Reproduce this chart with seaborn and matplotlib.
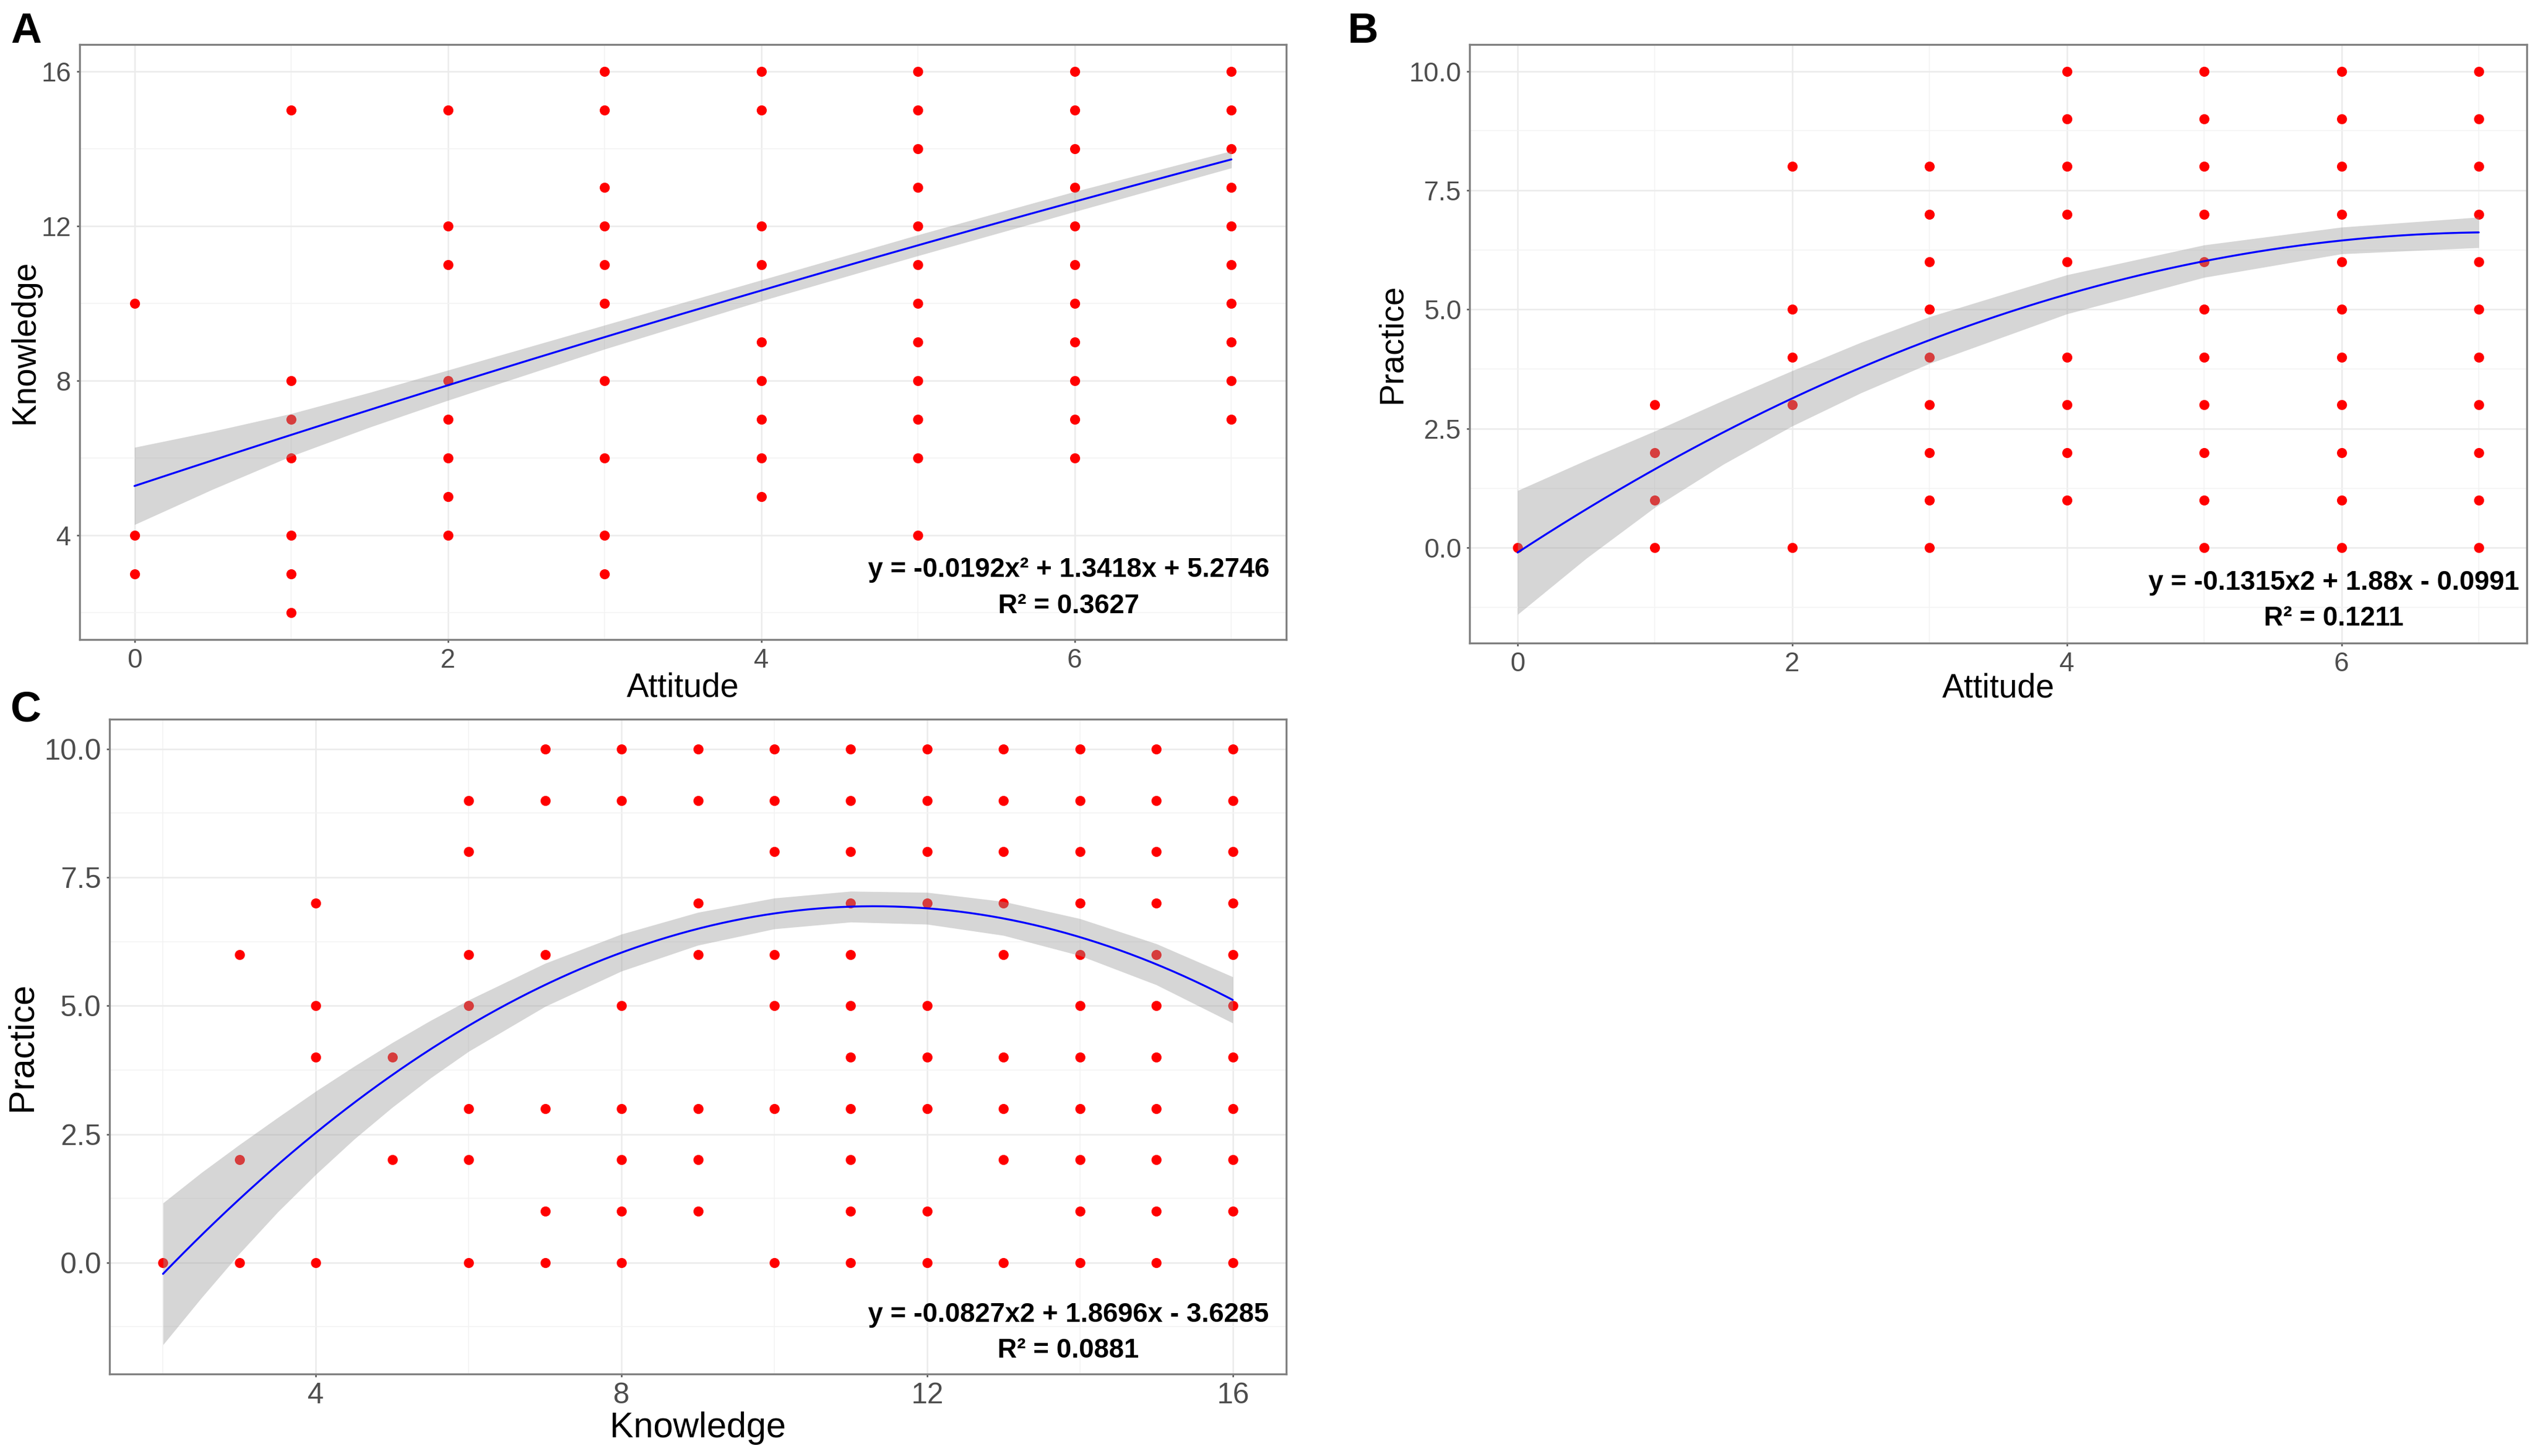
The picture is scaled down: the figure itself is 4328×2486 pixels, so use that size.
import numpy as np
import pandas as pd
import seaborn as sns
import matplotlib.pyplot as plt
from matplotlib.ticker import MultipleLocator, FormatStrFormatter

# ---- data ----
# panel A: Attitude (x) vs Knowledge (y)
a_x = [0, 1, 2, 3, 4, 5, 6, 7]
a_y = [
    [10, 4, 3],
    [15, 8, 7, 6, 4, 3, 2],
    [15, 12, 11, 8, 7, 6, 5, 4],
    [16, 15, 13, 12, 11, 10, 8, 6, 4, 3],
    [16, 15, 12, 11, 9, 8, 7, 6, 5],
    [16, 15, 14, 13, 12, 11, 10, 9, 8, 7, 6, 4],
    [16, 15, 14, 13, 12, 11, 10, 9, 8, 7, 6],
    [16, 15, 14, 13, 12, 11, 10, 9, 8, 7],
]
a_coef = [-0.0192, 1.3418, 5.2746]
# CI half width of the smooth, read at these x
a_band_x = [0, 0.5, 1, 1.5, 2, 3, 4, 5, 6, 7]
a_band = [1.0, 0.75, 0.55, 0.45, 0.39, 0.31, 0.27, 0.27, 0.26, 0.22]

# panel B: Attitude (x) vs Practice (y)
b_x = [0, 1, 2, 3, 4, 5, 6, 7]
b_y = [
    [0],
    [3, 2, 1, 0],
    [8, 5, 4, 3, 0],
    [8, 7, 6, 5, 4, 3, 2, 1, 0],
    [10, 9, 8, 7, 6, 4, 3, 2, 1],
    [10, 9, 8, 7, 6, 5, 4, 3, 2, 1, 0],
    [10, 9, 8, 7, 6, 5, 4, 3, 2, 1, 0],
    [10, 9, 8, 7, 6, 5, 4, 3, 2, 1, 0],
]
b_coef = [-0.1315, 1.88, -0.0991]
b_band_x = [0, 0.5, 1, 1.5, 2, 2.5, 3, 4, 5, 6, 7]
b_band = [1.3, 1.03, 0.8, 0.67, 0.58, 0.53, 0.49, 0.41, 0.34, 0.28, 0.32]

# panel C: Knowledge (x) vs Practice (y)
c_x = [2, 3, 4, 5, 6, 7, 8, 9, 10, 11, 12, 13, 14, 15, 16]
c_y = [
    [0],
    [6, 2, 0],
    [7, 5, 4, 0],
    [4, 2],
    [9, 8, 6, 5, 3, 2, 0],
    [10, 9, 6, 3, 1, 0],
    [10, 9, 5, 3, 2, 1, 0],
    [10, 9, 7, 6, 3, 2, 1],
    [10, 9, 8, 6, 5, 3, 0],
    [10, 9, 8, 7, 6, 5, 4, 3, 2, 1, 0],
    [10, 9, 8, 7, 5, 4, 3, 1, 0],
    [10, 9, 8, 7, 6, 4, 3, 2, 0],
    [10, 9, 8, 7, 6, 5, 4, 3, 2, 1, 0],
    [10, 9, 8, 7, 6, 5, 4, 3, 2, 1, 0],
    [10, 9, 8, 7, 6, 5, 4, 3, 2, 1, 0],
]
c_coef = [-0.0827, 1.8696, -3.6285]
c_band_x = [2, 2.5, 3, 3.5, 4, 4.5, 5, 5.5, 6, 7, 8, 9, 10, 11, 12, 13, 14, 15, 16]
c_band = [1.38, 1.22, 1.06, 0.92, 0.81, 0.71, 0.63, 0.56, 0.5, 0.42, 0.36,
          0.32, 0.3, 0.3, 0.31, 0.33, 0.36, 0.4, 0.45]

a_eq = ["y = -0.0192x\u00b2 + 1.3418x + 5.2746", "R\u00b2 = 0.3627"]
b_eq = ["y = -0.1315x2 + 1.88x - 0.0991", "R\u00b2 = 0.1211"]
c_eq = ["y = -0.0827x2 + 1.8696x - 3.6285", "R\u00b2 = 0.0881"]

# ---- style ----
sns.set_theme(style="whitegrid")
plt.rcParams['font.family'] = ['Liberation Sans', 'DejaVu Sans']

W, H = 4328, 2486
fig = plt.figure(figsize=(W / 300, H / 300), dpi=300)
fig.patch.set_facecolor('white')


def box(l, t, r, b):
    return [l / W, 1 - b / H, (r - l) / W, (b - t) / H]


def panel(ax, xs, ys, coef, band_x, band, xlim, ylim, xstep, ystep, xlabel,
          ylabel, yfmt, xlab_y, ylab_x, tick_fs, lab_fs):
    df = pd.DataFrame({'x': np.repeat(xs, [len(v) for v in ys]),
                       'y': np.concatenate(ys)})
    sns.scatterplot(data=df, x='x', y='y', color='#FF0000', s=17,
                    linewidth=0, ax=ax, zorder=2)
    bx = np.array(band_x, dtype=float)
    fit_b = np.polyval(coef, bx)
    hw = np.array(band)
    ax.fill_between(bx, fit_b - hw, fit_b + hw, color='#999999', alpha=0.4,
                    lw=0, zorder=3)
    xf = np.linspace(xs[0], xs[-1], 200)
    sns.lineplot(x=xf, y=np.polyval(coef, xf), color='#0000FF', lw=0.8,
                 ax=ax, zorder=4)
    ax.set_xlim(*xlim)
    ax.set_ylim(*ylim)
    ax.xaxis.set_major_locator(MultipleLocator(xstep))
    ax.xaxis.set_minor_locator(MultipleLocator(xstep / 2))
    ax.yaxis.set_major_locator(MultipleLocator(ystep))
    ax.yaxis.set_minor_locator(MultipleLocator(ystep / 2))
    if yfmt:
        ax.yaxis.set_major_formatter(FormatStrFormatter(yfmt))
    ax.grid(which='major', color='#EBEBEB', lw=0.6)
    ax.grid(which='minor', color='#F3F3F3', lw=0.4)
    ax.set_axisbelow(True)
    for s in ax.spines.values():
        s.set_visible(True)
        s.set_color('#808080')
        s.set_linewidth(0.8)
    ax.tick_params(which='major', bottom=True, left=True, length=1.2,
                   width=0.6, color='#4D4D4D', labelsize=tick_fs,
                   labelcolor='#4D4D4D', pad=2.2)
    ax.tick_params(which='minor', bottom=False, left=False, length=0)
    ax.set_xlabel(xlabel, fontsize=lab_fs, color='black', va='center')
    ax.set_ylabel(ylabel, fontsize=lab_fs, color='black', va='center')
    ax.xaxis.set_label_coords(0.5, xlab_y)
    ax.yaxis.set_label_coords(ylab_x, 0.5)
    ax.set_facecolor('white')


ax_a = fig.add_axes(box(136, 76, 2196, 1092))
panel(ax_a, a_x, a_y, a_coef, a_band_x, a_band, (-0.35, 7.35), (1.3, 16.7),
      2, 4, 'Attitude', 'Knowledge', None, -0.081, -0.0456, 11, 13.6)

ax_b = fig.add_axes(box(2509, 76, 4314, 1098))
panel(ax_b, b_x, b_y, b_coef, b_band_x, b_band, (-0.35, 7.35), (-2.0, 10.56),
      2, 2.5, 'Attitude', 'Practice', '%.1f', -0.076, -0.073, 11, 13.6)

ax_c = fig.add_axes(box(187, 1228, 2196, 2346))
panel(ax_c, c_x, c_y, c_coef, c_band_x, c_band, (1.3, 16.7), (-2.17, 10.58),
      4, 2.5, 'Knowledge', 'Practice', '%.1f', -0.083, -0.074, 12, 14.6)

# equations
for eq, cx, y1, y2 in [(a_eq, 1825, 973, 1035), (b_eq, 3984, 995, 1056),
                       (c_eq, 1824, 2245, 2306)]:
    fig.text(cx / W, 1 - y1 / H, eq[0], ha='center', va='center',
             fontsize=11, fontweight='bold', color='black')
    fig.text(cx / W, 1 - y2 / H, eq[1], ha='center', va='center',
             fontsize=11, fontweight='bold', color='black')

# panel letters
for lab, lx, ly in [('A', 18, 20), ('B', 2300, 20), ('C', 18, 1178)]:
    fig.text(lx / W, 1 - ly / H, lab, ha='left', va='top', fontsize=17.5,
             fontweight='bold', color='black')

fig.savefig('out.png', dpi=300, facecolor='white')
